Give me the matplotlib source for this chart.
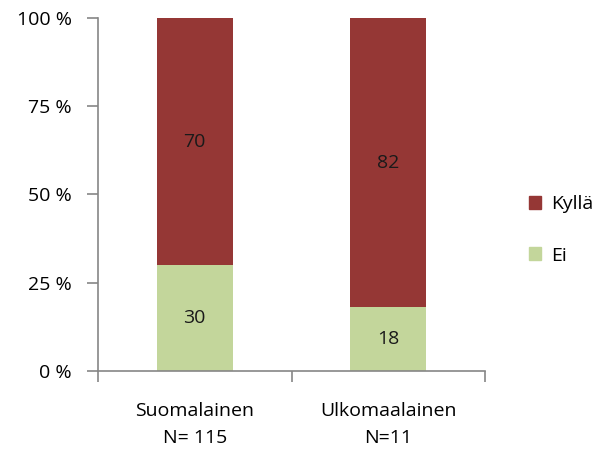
import matplotlib
matplotlib.use("Agg")
import matplotlib.pyplot as plt
from matplotlib.ticker import FixedLocator, NullFormatter
from matplotlib.patches import Patch

categories = ["Suomalainen\nN= 115", "Ulkomaalainen\nN=11"]
ei = [30, 18]
kylla = [70, 82]
yticks = [0, 25, 50, 75, 100]
ytick_labels = ["0 %", "25 %", "50 %", "75 %", "100 %"]

plt.rcParams['font.family'] = ['Open Sans', 'DejaVu Sans']
red = "#953735"
green = "#C3D69B"
axis_col = "#868686"
fs = 14

fig = plt.figure(figsize=(6.01, 4.5), dpi=100)
ax = fig.add_axes([98/601, 1-371/450, (485-98)/601, (371-18)/450])

x = list(range(len(categories)))
w = 0.395
ax.bar(x, ei, width=w, color=green)
ax.bar(x, kylla, width=w, bottom=ei, color=red)

for xi, e, k in zip(x, ei, kylla):
    ax.text(xi, e/2, str(e), ha='center', va='center', fontsize=fs, color='#1a1a1a')
    ax.text(xi, e + k/2, str(k), ha='center', va='center', fontsize=fs, color='#1a1a1a')

ax.set_xlim(-0.5, len(categories) - 0.5)
ax.set_ylim(0, 100)
ax.set_yticks(yticks)
ax.set_yticklabels(ytick_labels, fontsize=fs)
ax.xaxis.set_major_locator(FixedLocator([-0.5, 0.5, 1.5]))
ax.xaxis.set_major_formatter(NullFormatter())
ax.xaxis.set_minor_locator(FixedLocator(x))
ax.set_xticklabels(categories, minor=True, fontsize=fs, linespacing=1.65)
ax.tick_params(axis='x', which='minor', length=0, pad=22)
ax.tick_params(axis='x', which='major', length=8, color=axis_col, width=1.2)
ax.tick_params(axis='y', length=8, color=axis_col, width=1.2, pad=11)

for s in ['top', 'right']:
    ax.spines[s].set_visible(False)
for s in ['left', 'bottom']:
    ax.spines[s].set_color(axis_col)
    ax.spines[s].set_linewidth(1.2)

handles = [Patch(color=red, label="Kyllä"), Patch(color=green, label="Ei")]
fig.legend(handles=handles, loc='center left', bbox_to_anchor=(511/601, 1-230/450),
           frameon=False, fontsize=fs, handlelength=0.65, handleheight=0.65,
           labelspacing=1.7, handletextpad=0.5)

fig.savefig("out.png", dpi=100)
